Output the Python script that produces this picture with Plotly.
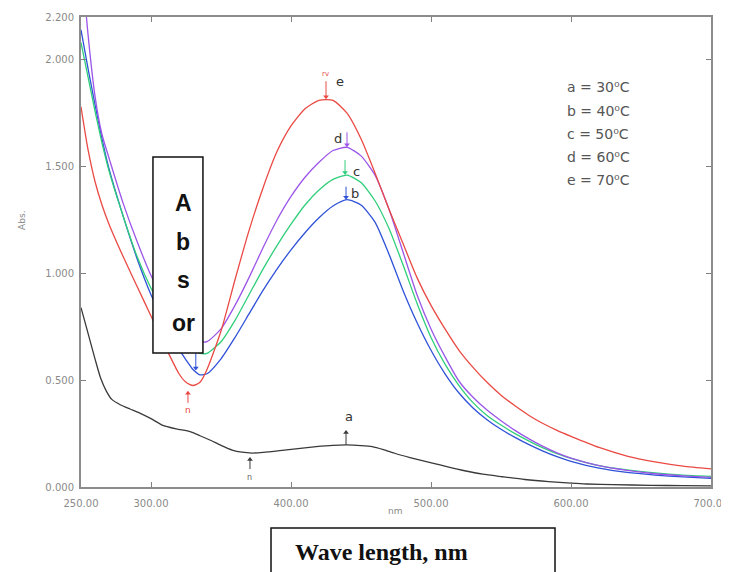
import plotly.graph_objects as go

# ---------------- data ----------------
wl_col = [250, 255, 260, 265, 270, 280, 290, 300, 310, 320, 325, 330, 335, 340, 350, 360, 370,
          380, 390, 400, 410, 420, 430, 440, 450, 460, 470, 480, 490, 500, 510, 520, 530, 540,
          550, 560, 570, 580, 590, 600, 620, 640, 660, 680, 700]

abs_e_70 = [1.78, 1.58, 1.43, 1.32, 1.23, 1.08, 0.94, 0.80, 0.66, 0.53, 0.49, 0.475, 0.49, 0.55,
            0.73, 0.97, 1.20, 1.40, 1.57, 1.69, 1.77, 1.81, 1.81, 1.75, 1.63, 1.47, 1.30, 1.14,
            0.98, 0.85, 0.74, 0.64, 0.56, 0.49, 0.43, 0.38, 0.335, 0.297, 0.265, 0.237, 0.185,
            0.145, 0.118, 0.098, 0.085]

abs_d_60 = [2.50, 2.12, 1.83, 1.65, 1.54, 1.33, 1.15, 0.99, 0.86, 0.755, 0.72, 0.695, 0.68, 0.68,
            0.74, 0.85, 0.98, 1.12, 1.25, 1.36, 1.45, 1.52, 1.575, 1.59, 1.55, 1.46, 1.30, 1.10,
            0.90, 0.74, 0.61, 0.495, 0.42, 0.36, 0.31, 0.265, 0.225, 0.19, 0.16, 0.135, 0.10,
            0.078, 0.062, 0.052, 0.045]

abs_c_50 = [2.08, 1.92, 1.76, 1.61, 1.48, 1.27, 1.08, 0.93, 0.81, 0.71, 0.67, 0.64, 0.625, 0.625,
            0.68, 0.78, 0.90, 1.02, 1.13, 1.23, 1.32, 1.39, 1.44, 1.46, 1.425, 1.34, 1.21, 1.04,
            0.86, 0.70, 0.575, 0.475, 0.395, 0.335, 0.29, 0.25, 0.215, 0.183, 0.156, 0.134, 0.10,
            0.08, 0.066, 0.056, 0.05]

abs_b_40 = [2.14, 1.96, 1.79, 1.63, 1.49, 1.27, 1.07, 0.90, 0.76, 0.645, 0.595, 0.55, 0.525, 0.53,
            0.60, 0.70, 0.81, 0.92, 1.02, 1.11, 1.19, 1.26, 1.315, 1.345, 1.32, 1.24, 1.09, 0.92,
            0.77, 0.64, 0.53, 0.44, 0.37, 0.315, 0.27, 0.232, 0.198, 0.168, 0.142, 0.12, 0.088,
            0.068, 0.056, 0.047, 0.04]

wl_a = [250, 255, 260, 264, 268, 272, 278, 285, 292, 300, 308, 318, 328, 335, 342, 350, 358, 365,
        372, 380, 392, 405, 418, 430, 440, 450, 458, 466, 474, 485, 501, 512, 524, 537, 551, 567,
        584, 600, 611, 630, 657, 680, 700]
abs_a_30 = [0.84, 0.72, 0.60, 0.51, 0.45, 0.41, 0.385, 0.365, 0.346, 0.32, 0.29, 0.272, 0.259,
            0.24, 0.22, 0.195, 0.173, 0.163, 0.159, 0.162, 0.17, 0.18, 0.189, 0.195, 0.197, 0.194,
            0.189, 0.175, 0.158, 0.138, 0.112, 0.094, 0.076, 0.06, 0.048, 0.035, 0.025, 0.018,
            0.014, 0.011, 0.008, 0.006, 0.005]

x_tickvals = [250, 300, 400, 500, 600, 700]
x_ticktext = ["250.00", "300.00", "400.00", "500.00", "600.00", "700.00"]
y_tickvals = [0, 0.5, 1.0, 1.5, 2.0, 2.2]
y_ticktext = ["0.000", "0.500", "1.000", "1.500", "2.000", "2.200"]

legend_lines = ["a = 30\u2070C", "b = 40\u2070C", "c = 50\u2070C", "d = 60\u2070C", "e = 70\u2070C"]

RED, PURPLE, GREEN, BLUE, BLACK = "#ea4a44", "#9b55e8", "#2fcf7a", "#2f52d8", "#3a3a3a"

# peak / valley pick markers: (wavelength, head value, shaft length px, direction, colour)
pick_markers = [(425, 1.815, 18, "down", RED), (440, 1.59, 15, "down", PURPLE),
                (438.6, 1.46, 15, "down", GREEN), (439.3, 1.345, 13, "down", BLUE),
                (439.3, 0.267, 15, "up", BLACK), (370.7, 0.14, 12, "up", BLACK),
                (326.4, 0.45, 12, "up", RED), (332, 0.545, 18, "down", BLUE)]

# ---------------- figure ----------------
fig = go.Figure()
series = [(wl_a, abs_a_30, BLACK), (wl_col, abs_b_40, BLUE), (wl_col, abs_c_50, GREEN),
          (wl_col, abs_d_60, PURPLE), (wl_col, abs_e_70, RED)]
for xs, ys, col in series:
    fig.add_trace(go.Scatter(x=xs, y=ys, mode="lines",
                             line=dict(color=col, width=1.3, shape="spline", smoothing=0.6),
                             showlegend=False, hoverinfo="skip"))

PX = 2.2 / 470.0  # data units per pixel on the y axis
shapes = []
for x, yh, length, direc, col in pick_markers:
    sign = 1 if direc == "down" else -1
    shapes.append(dict(type="line", xref="x", yref="y", x0=x, x1=x, y0=yh + sign * 2 * PX,
                       y1=yh + sign * length * PX, line=dict(color=col, width=1)))
    fig.add_trace(go.Scatter(x=[x], y=[yh + sign * 2.5 * PX], mode="markers",
                             marker=dict(symbol="triangle-down" if direc == "down" else "triangle-up",
                                         size=5, color=col, line=dict(width=0)),
                             showlegend=False, hoverinfo="skip"))

tickfont = dict(family="DejaVu Sans", size=10, color="#8a8a8a")
axis_common = dict(showline=True, linecolor="#8c8c8c", linewidth=2, mirror="ticks",
                   ticks="inside", ticklen=5, tickcolor="#808080", tickwidth=1.2,
                   showgrid=False, zeroline=False, tickfont=tickfont, automargin=False)

# the page body adds an 8 px margin, so the figure is sized to end at the window edge
fig.update_layout(
    width=721, height=564,
    margin=dict(l=73, r=18, t=9, b=85, pad=0),
    paper_bgcolor="white", plot_bgcolor="white",
    xaxis=dict(range=[250, 700], tickmode="array", tickvals=x_tickvals, ticktext=x_ticktext,
               ticklabelstandoff=6, **axis_common),
    yaxis=dict(range=[0, 2.2], tickmode="array", tickvals=y_tickvals, ticktext=y_ticktext,
               ticklabelstandoff=3, **axis_common),
)

ann = []
# curve letters
letter_font = dict(family="DejaVu Sans", size=13, color="#333333")
for txt, x, y in [("e", 435, 1.90), ("d", 433.6, 1.63), ("c", 447, 1.476),
                  ("b", 445.7, 1.374), ("a", 441.4, 0.332)]:
    ann.append(dict(x=x, y=y, xref="x", yref="y", text=txt, showarrow=False, font=letter_font))

# small marker texts
ann.append(dict(x=424.3, y=1.935, xref="x", yref="y", text="rv", showarrow=False,
                font=dict(family="DejaVu Sans", size=7, color=RED)))
ann.append(dict(x=326.4, y=0.36, xref="x", yref="y", text="n", showarrow=False,
                font=dict(family="DejaVu Sans", size=9, color=RED)))
ann.append(dict(x=370.7, y=0.045, xref="x", yref="y", text="n", showarrow=False,
                font=dict(family="DejaVu Sans", size=8, color="#666666")))

# temperature legend text
leg_font = dict(family="DejaVu Sans", size=14, color="#555555")
row_vals = [1.873, 1.760, 1.653, 1.545, 1.437]
for txt, yv in zip(legend_lines, row_vals):
    ann.append(dict(x=595.7, y=yv, xref="x", yref="y", text=txt, showarrow=False,
                    xanchor="left", yanchor="middle", font=leg_font))

# axis titles
ann.append(dict(x=-0.105, y=0.568, xref="paper", yref="paper", text="Abs.", textangle=-90,
                showarrow=False, font=dict(family="DejaVu Sans", size=9, color="#888888")))
ann.append(dict(x=0.498, y=-0.066, xref="paper", yref="paper", text="nm", showarrow=False,
                font=dict(family="DejaVu Sans", size=9, color="#888888")))

# "A b s or" box text
box_font = dict(family="Liberation Sans", size=23, color="#111111")
for txt, yv in [("<b>A</b>", 1.33), ("<b>b</b>", 1.147), ("<b>s</b>", 0.969), ("<b>or</b>", 0.768)]:
    ann.append(dict(x=322.9, y=yv, xref="x", yref="y", text=txt, showarrow=False, font=box_font))

# "Wave length, nm" box text
ann.append(dict(x=0.3365, y=-0.138, xref="paper", yref="paper", text="<b>Wave length, nm</b>",
                showarrow=False, xanchor="left", yanchor="middle",
                font=dict(family="Liberation Serif", size=24, color="#111111")))

shapes += [
    dict(type="rect", xref="x", yref="y", x0=301.4, x1=337.1, y0=0.627, y1=1.545,
         fillcolor="white", line=dict(color="#111111", width=1.5), layer="above"),
    dict(type="rect", xref="paper", yref="paper", x0=0.3016, x1=0.7524, y0=-0.0872, y1=-0.21,
         fillcolor="white", line=dict(color="#111111", width=1.5), layer="above"),
]

fig.update_layout(annotations=ann, shapes=shapes)

fig.write_html("out.html")
